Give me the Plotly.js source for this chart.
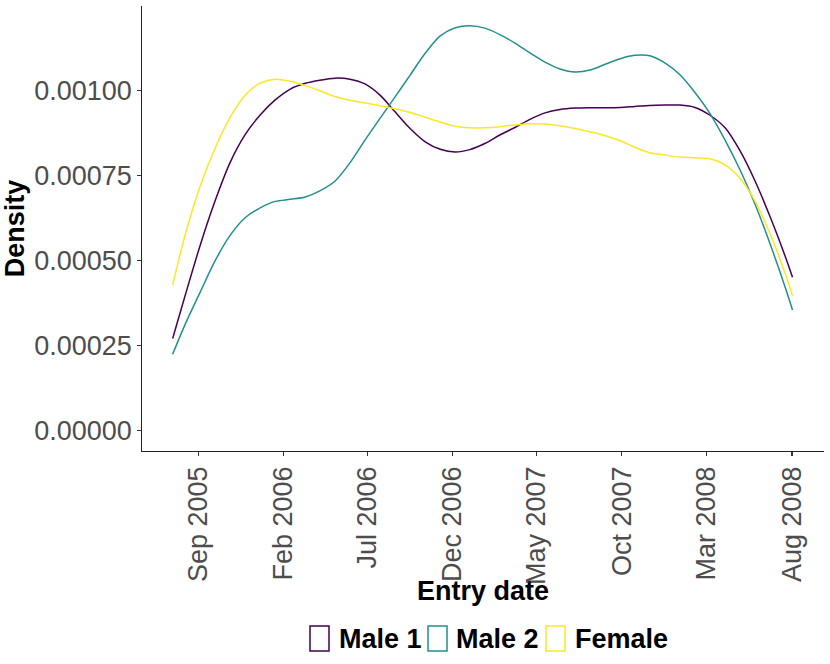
<!DOCTYPE html>
<html>
<head>
<meta charset="utf-8">
<script src="https://cdn.plot.ly/plotly-3.0.1.min.js"></script>
<style>
  html, body { margin: 0; padding: 0; background: #fff; }
  #chart { width: 830px; height: 664px; }
</style>
</head>
<body>
<div id="chart"></div>
<script>
// estimated density of entry dates
const entryDates = [
    '2005-07-17', '2005-08-08', '2005-09-04', '2005-10-01', '2005-10-28', '2005-11-24',
    '2005-12-21', '2006-01-17', '2006-02-13', '2006-03-12', '2006-04-07', '2006-05-04',
    '2006-05-31', '2006-06-27', '2006-07-24', '2006-08-20', '2006-09-16', '2006-10-13',
    '2006-11-09', '2006-12-06', '2007-01-01', '2007-01-28', '2007-02-24', '2007-03-23',
    '2007-04-19', '2007-05-16', '2007-06-12', '2007-07-09', '2007-08-05', '2007-09-01',
    '2007-09-28', '2007-10-24', '2007-11-20', '2007-12-17', '2008-01-13', '2008-02-09',
    '2008-03-07', '2008-04-03', '2008-04-30', '2008-05-27', '2008-06-23', '2008-07-20',
    '2008-08-02'
]
const male1 = [
    0.000271, 0.000395, 0.000543, 0.000675, 0.000788, 0.000870,
    0.000928, 0.000972, 0.001004, 0.001021, 0.001030, 0.001036,
    0.001033, 0.001019, 0.000986, 0.000937, 0.000888, 0.000849,
    0.000827, 0.000819, 0.000826, 0.000844, 0.000869, 0.000891,
    0.000915, 0.000934, 0.000944, 0.000948, 0.000949, 0.000949,
    0.000950, 0.000953, 0.000956, 0.000957, 0.000957, 0.000950,
    0.000927, 0.000890, 0.000822, 0.000733, 0.000628, 0.000512,
    0.000451
]
const male2 = [
    0.000225, 0.000311, 0.000406, 0.000499, 0.000574, 0.000626,
    0.000655, 0.000674, 0.000680, 0.000687, 0.000705, 0.000733,
    0.000787, 0.000854, 0.000918, 0.000981, 0.001045, 0.001109,
    0.001160, 0.001184, 0.001190, 0.001183, 0.001164, 0.001139,
    0.001110, 0.001083, 0.001063, 0.001054, 0.001060, 0.001077,
    0.001093, 0.001103, 0.001102, 0.001081, 0.001046, 0.000994,
    0.000932, 0.000854, 0.000766, 0.000665, 0.000548, 0.000421,
    0.000355
]
const female = [
    0.000428, 0.000573, 0.000717, 0.000830, 0.000921, 0.000986,
    0.001021, 0.001033, 0.001027, 0.001014, 0.000999, 0.000982,
    0.000971, 0.000963, 0.000955, 0.000946, 0.000935, 0.000921,
    0.000907, 0.000895, 0.000890, 0.000890, 0.000893, 0.000898,
    0.000902, 0.000901, 0.000896, 0.000888, 0.000878, 0.000867,
    0.000852, 0.000833, 0.000817, 0.000810, 0.000804, 0.000802,
    0.000799, 0.000781, 0.000741, 0.000674, 0.000578, 0.000461,
    0.000397
]
const groupNames = ['Male 1', 'Male 2', 'Female']
const groupColors = ['#440154', '#21908C', '#FDE725']

const tickDates = ['2005-09-01', '2006-02-01', '2006-07-01', '2006-12-01',
    '2007-05-01', '2007-10-01', '2008-03-01', '2008-08-01']
const tickLabels = ['Sep 2005', 'Feb 2006', 'Jul 2006', 'Dec 2006',
    'May 2007', 'Oct 2007', 'Mar 2008', 'Aug 2008']
const yTicks = [0, 0.00025, 0.0005, 0.00075, 0.001]

const FONT = 'Liberation Sans, Arial, Helvetica, sans-serif'
const W = 830, H = 664
const mar = { l: 142, r: 6, t: 6, b: 213 }
const plotW = W - mar.l - mar.r
const plotH = H - mar.t - mar.b
// pixel -> paper helpers for the hand-made legend / x title
const px = x => (x - mar.l) / plotW
const py = y => (H - mar.b - y) / plotH

const series = [male1, male2, female]
let data = series.map((vals, i) => ({
    type: 'scatter',
    mode: 'lines',
    name: groupNames[i],
    x: entryDates,
    y: vals,
    line: { color: groupColors[i], width: 1.5, shape: 'spline', smoothing: 0.8 },
    hoverinfo: 'x+y+name'
}))

// ggplot-like legend: outlined keys + bold labels
const keyX = [310, 428, 546]
const labelX = [337, 454, 573]
let shapes = [], annotations = []
groupNames.forEach((name, i) => {
    shapes.push({
        type: 'rect', xref: 'paper', yref: 'paper',
        x0: px(keyX[i]), x1: px(keyX[i] + 19),
        y0: py(651), y1: py(626),
        line: { color: groupColors[i], width: 1.5 },
        fillcolor: 'rgba(0,0,0,0)'
    })
    annotations.push({
        xref: 'paper', yref: 'paper',
        x: px(labelX[i]), y: py(639),
        xanchor: 'left', yanchor: 'middle',
        text: '<b>' + name + '</b>', showarrow: false,
        font: { family: FONT, size: 27, color: '#000' }
    })
})
// x axis title as annotation so it sits where ggplot put it
annotations.push({
    xref: 'paper', yref: 'paper', x: 0.5, y: py(591),
    xanchor: 'center', yanchor: 'middle', showarrow: false,
    text: '<b>Entry date</b>',
    font: { family: FONT, size: 27, color: '#000' }
})

const layout = {
    width: W, height: H,
    margin: mar,
    paper_bgcolor: '#fff',
    plot_bgcolor: '#fff',
    showlegend: false,
    font: { family: FONT },
    xaxis: {
        type: 'date',
        range: ['2005-05-23', '2008-09-27 12:00'],
        tickmode: 'array',
        tickvals: tickDates,
        ticktext: tickLabels,
        tickangle: -90,
        tickfont: { family: FONT, size: 27, color: '#4D4D4D' },
        ticks: 'outside', ticklen: 3.5, tickwidth: 1.1, tickcolor: '#333',
        showline: true, linecolor: '#222', linewidth: 1.2,
        showgrid: false, zeroline: false
    },
    yaxis: {
        range: [-0.0000595, 0.001248],
        tickmode: 'array',
        tickvals: yTicks,
        tickformat: '.5f',
        tickfont: { family: FONT, size: 27, color: '#4D4D4D' },
        ticks: 'outside', ticklen: 3.5, tickwidth: 1.1, tickcolor: '#333',
        showline: true, linecolor: '#222', linewidth: 1.2,
        showgrid: false, zeroline: false,
        title: { text: '<b>Density</b>', font: { family: FONT, size: 27, color: '#000' }, standoff: 6 }
    },
    shapes: shapes,
    annotations: annotations
}

Plotly.newPlot('chart', data, layout, { displayModeBar: false, staticPlot: true })
</script>
</body>
</html>
